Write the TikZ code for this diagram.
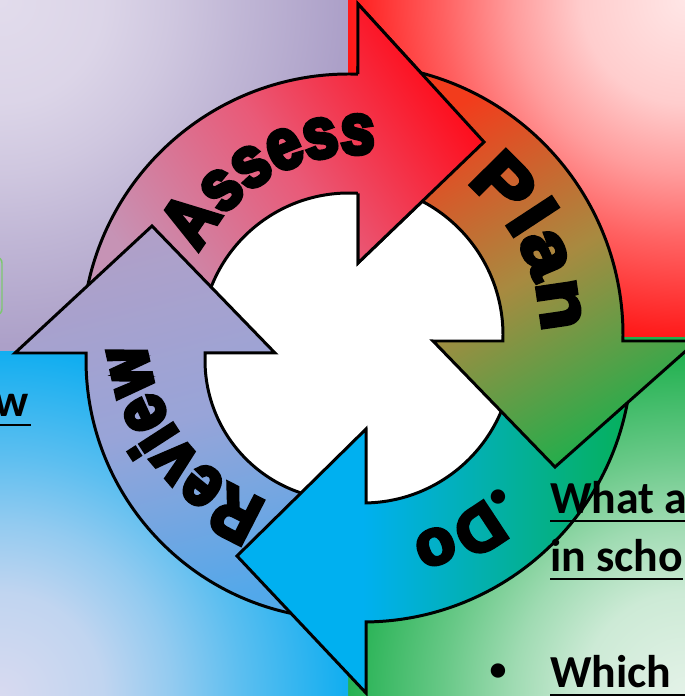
\documentclass[tikz,border=0pt]{standalone}
\usepackage{fontspec}
\setmainfont{Carlito}
\newfontfamily\cyclefont{Liberation Sans}[UprightFont=* Bold, FakeBold=6]
\usetikzlibrary{calc, decorations.text}

% background quadrants
\definecolor{tlpale}{HTML}{E2DCEC}
\definecolor{tlfull}{HTML}{ACA0C8}
\definecolor{trpale}{HTML}{FFE6E6}
\definecolor{trfull}{HTML}{FF1414}
\definecolor{brpale}{HTML}{E4F2E8}
\definecolor{brfull}{HTML}{1FB04E}
\definecolor{blpale}{HTML}{D8DAF0}
\definecolor{blfull}{HTML}{12AEF0}
% arrows
\definecolor{aslow}{HTML}{C693B5}
\definecolor{asmid}{HTML}{E95A78}
\definecolor{ashigh}{HTML}{FF0A18}
\definecolor{plorange}{HTML}{F23C1C}
\definecolor{plolive}{HTML}{A88A40}
\definecolor{plgreen}{HTML}{22AE4C}
\definecolor{doblue}{HTML}{00B0F0}
\definecolor{dogreen}{HTML}{06B05A}
\definecolor{rvblue}{HTML}{52A8EA}
\definecolor{rvmid}{HTML}{98A4D8}
\definecolor{rvlav}{HTML}{B0A0C8}
\definecolor{boxgreen}{HTML}{7DC870}

% corner glow: pale at the corner, full colour 345 units away
\newcommand\cornershade[3]{%
  \colorlet{#1a}{#3!12!#2}%
  \colorlet{#1b}{#3!35!#2}%
  \colorlet{#1c}{#3!63!#2}%
  \pgfdeclareradialshading{#1}{\pgfpoint{0bp}{0bp}}{color(0bp)=(#2); color(3.7bp)=(#1a); color(6.16bp)=(#1b); color(8.63bp)=(#1c); color(12.32bp)=(#3); color(50bp)=(#3)}}
\cornershade{tlshade}{tlpale}{tlfull}
\cornershade{trshade}{trpale}{trfull}
\cornershade{brshade}{brpale}{brfull}
\cornershade{blshade}{blpale}{blfull}

\pgfdeclareverticalshading{assessshade}{100bp}{color(0bp)=(aslow); color(25bp)=(aslow); color(50bp)=(asmid); color(75bp)=(ashigh); color(100bp)=(ashigh)}
\pgfdeclareverticalshading{planshade}{100bp}{color(0bp)=(plgreen); color(25bp)=(plgreen); color(50bp)=(plolive); color(75bp)=(plorange); color(100bp)=(plorange)}
\pgfdeclarehorizontalshading{doshade}{100bp}{color(0bp)=(doblue); color(41bp)=(doblue); color(75bp)=(dogreen); color(100bp)=(dogreen)}
\pgfdeclareverticalshading{reviewshade}{100bp}{color(0bp)=(rvblue); color(25bp)=(rvblue); color(50bp)=(rvmid); color(75bp)=(rvlav); color(100bp)=(rvlav)}

\newcommand\assesspath{($(A0)+(172:267)$) arc[start angle=172, end angle=88.07, radius=267] -- (358,692) -- (484,554) -- (358,433) -- ($(A0)+(86.51:148)$) arc[start angle=86.51, end angle=172, radius=148] -- cycle}
\newcommand\planpath{($(P0)+(78:271)$) arc[start angle=78, end angle=-1.27, radius=271] -- (697,355) -- (555,229) -- (433,355) -- ($(P0)+(-2.28:151)$) arc[start angle=-2.28, end angle=78, radius=151] -- cycle}
\newcommand\dopath{($(D0)+(-5:269)$) arc[start angle=-5, end angle=-89.36, radius=269] -- (366,3) -- (237,140) -- (366,267) -- ($(D0)+(-88.85:150)$) arc[start angle=-88.85, end angle=-5, radius=150] -- cycle}
\newcommand\reviewpath{($(R0)+(265:259)$) arc[start angle=265, end angle=178.45, radius=259] -- (15,343) -- (152,470) -- (275,343) -- ($(R0)+(177.13:140)$) arc[start angle=177.13, end angle=265, radius=140] -- cycle}

\newcommand\assessfont{\cyclefont\fontsize{72}{72}\selectfont\addfontfeature{FakeStretch=0.85}}
\newcommand\planfont{\cyclefont\fontsize{72}{72}\selectfont\addfontfeature{FakeStretch=1.15}}
\newcommand\dofont{\cyclefont\fontsize{64}{64}\selectfont}
\newcommand\reviewfont{\cyclefont\fontsize{72}{72}\selectfont\addfontfeature{FakeStretch=0.85}}

\begin{document}
\begin{tikzpicture}[x=1bp, y=1bp,
  arrowline/.style={draw=black, line width=3pt, line join=miter},
  assessfill/.style={shading=assessshade, shading angle=-55},
  planfill/.style={shading=planshade, shading angle=30},
  dofill/.style={shading=doshade},
  reviewfill/.style={shading=reviewshade, shading angle=15},
  cycletext/.style={decorate, decoration={text along path, text align=center, text={#1}}},
  bodytext/.style={font=\fontsize{46}{56}\selectfont\bfseries, inner sep=0pt, anchor=base west},
  bullettext/.style={font=\fontsize{34}{40}\selectfont\bfseries, inner sep=0pt, anchor=base},
  textrule/.style={line width=2.4pt}]
\useasboundingbox (0,0) rectangle (685,696);
\clip (0,0) rectangle (685,696);

% quadrants
\begin{scope}
  \clip (0,344) rectangle (348,696);
  \shade[shading=tlshade] (-700,-4) rectangle (700,1396);
\end{scope}
\begin{scope}
  \clip (348,358) rectangle (685,696);
  \shade[shading=trshade] (-15,-4) rectangle (1385,1396);
\end{scope}
\begin{scope}
  \clip (348,0) rectangle (685,358);
  \shade[shading=brshade] (-15,-700) rectangle (1385,700);
\end{scope}
\begin{scope}
  \clip (0,0) rectangle (348,344);
  \shade[shading=blshade] (-700,-700) rectangle (700,700);
\end{scope}

% centres of the four bands
\coordinate (A0) at (349,355);
\coordinate (P0) at (352,361);
\coordinate (D0) at (363,343);
\coordinate (R0) at (345,336);

% white hub
\fill[white] (355,348) circle[radius=163];

% arrows
\shadedraw[arrowline, assessfill] \assesspath;
\shadedraw[arrowline, reviewfill] \reviewpath;
\shadedraw[arrowline, dofill] \dopath;
\shadedraw[arrowline, planfill] \planpath;
% head of Assess over the tail of Plan
\begin{scope}
  \clip (358,692) -- (484,554) -- (358,433) -- cycle;
  \shade[assessfill] \assesspath;
\end{scope}
\draw[arrowline] ($(A0)+(88.07:267)$) -- (358,692) -- (484,554) -- (358,433) -- ($(A0)+(86.51:148)$);

% labels
\path[cycletext={|\assessfont|Assess}] ($(360.7,360.5)+(179.2:182)$) arc[start angle=179.2, end angle=59.2, radius=182];
\path[cycletext={|\planfont|Plan}] ($(P0)+(87:190)$) arc[start angle=87, end angle=-33, radius=190];
\path[cycletext={|\dofont|Do}] ($(D0)+(-2.5:190)$) arc[start angle=-2.5, end angle=-122.5, radius=190];
\path[cycletext={|\reviewfont|Review}] ($(332,370)+(277.5:187)$) arc[start angle=277.5, end angle=157.5, radius=187];

% left side
\draw[draw=boxgreen, line width=1.5pt, rounded corners=6] (-40,381) rectangle (2,439);
\node[bodytext, anchor=base east] (revw) at (29,279) {w};
\draw[textrule] ([yshift=-8pt]revw.base west) -- ([xshift=2pt, yshift=-8pt]revw.base east);

% right side
\node[bodytext] (what) at (550,182) {What a};
\node[bodytext] (school) at (550,124) {in scho};
\node[bodytext] (which) at (550,8) {Which};
\node[bullettext] (dotwhat) at (498,189) {•};
\node[bullettext] (dotwhich) at (498,15) {•};
\draw[textrule] ([yshift=-7pt]what.base west) -- ([xshift=10pt, yshift=-7pt]what.base east);
\draw[textrule] ([yshift=-7pt]school.base west) -- ([yshift=-7pt]school.base east);
\draw[textrule] ([yshift=-7pt]which.base west) -- ([xshift=40pt, yshift=-7pt]which.base east);
\end{tikzpicture}
\end{document}
